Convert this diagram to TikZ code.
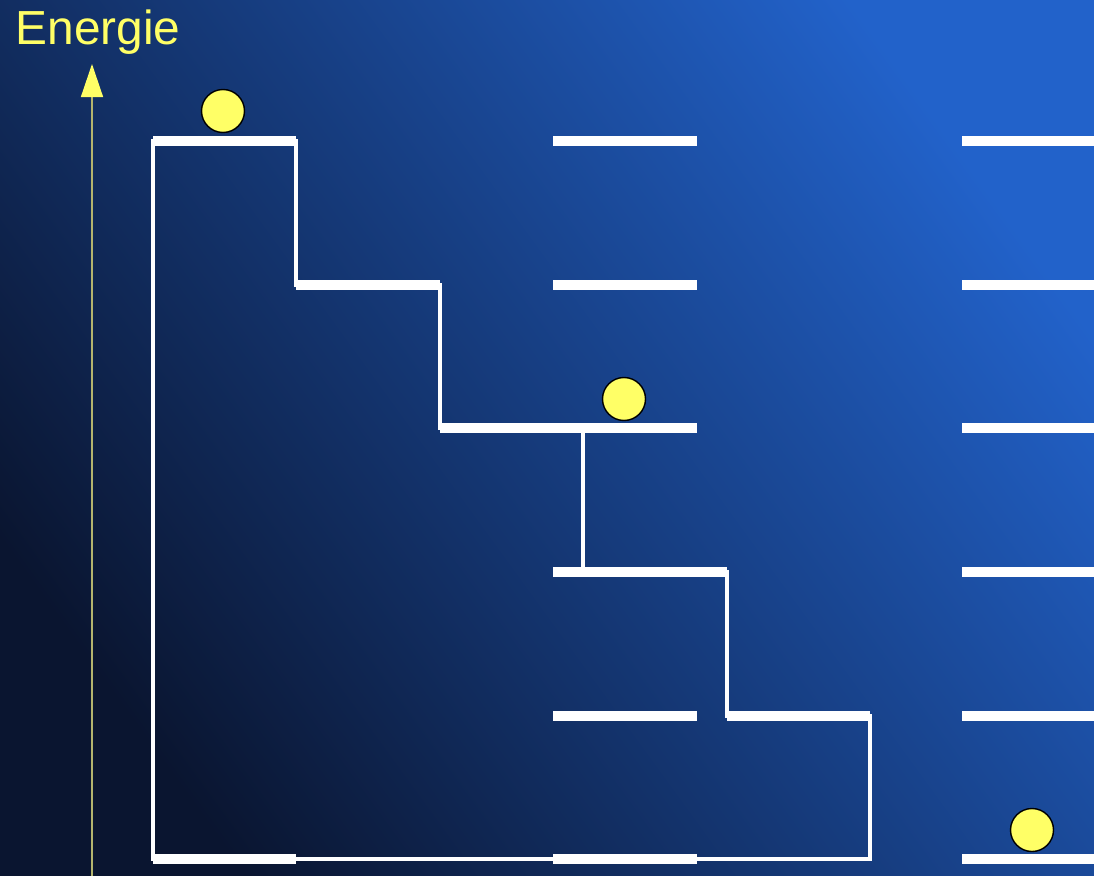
\documentclass[tikz,border=0pt]{standalone}
\usepackage{fontspec}
\setmainfont{Liberation Sans}
\usetikzlibrary{arrows.meta}
\definecolor{ballyellow}{HTML}{FFFF66}
\definecolor{axisolive}{HTML}{B4B46E}
\definecolor{bgdark}{HTML}{0A1530}
\definecolor{bgmid}{HTML}{143470}
\definecolor{bglight}{HTML}{2262CA}

\begin{document}
\begin{tikzpicture}[x=0.01cm,y=-0.01cm,
		level/.style={white,line width=2.6pt},
		link/.style={white,line width=1.1pt},
		ball/.style={draw=black,line width=0.4pt,fill=ballyellow}]
					\shade[left color=bglight,middle color=bgmid,right color=bgdark,shading angle=-54] (0,0) rectangle (1094,876);
					\useasboundingbox (0,0) rectangle (1094,876);
					% energy axis
					\node[anchor=base west,inner sep=0pt,text=ballyellow,font=\fontsize{13.6pt}{16pt}\selectfont] (energy) at (15,45) {Energie};
					\coordinate (axisfoot) at (92,876);
					\coordinate (axistop) at (92,64);
					\draw[axisolive,line width=0.4pt,-{Triangle[length=3.3mm,width=2.2mm,color=ballyellow]}] (axisfoot) -- (axistop);
					% staircase
					\draw[link] (153,141) -- (296,141) -- (296,285) -- (440,285) -- (440,428) -- (583,428) -- (583,572) -- (727,572) -- (727,716) -- (870,716) -- (870,859) -- (153,859) -- cycle;
					\draw[level] (153,141) -- (296,141);
					\draw[level] (296,285) -- (440,285);
					\draw[level] (440,428) -- (583,428);
					\draw[level] (583,572) -- (727,572);
					\draw[level] (727,716) -- (870,716);
					\draw[level] (153,859) -- (296,859);
					% level columns
					\foreach \y in {141,285,428,572,716,859} {
						\draw[level] (553,\y) -- (697,\y);
						\draw[level] (962,\y) -- (1094,\y);
					}
					% balls
					\draw[ball] (223,111) circle[radius=21.5];
					\draw[ball] (624,399) circle[radius=21.5];
					\draw[ball] (1032,830) circle[radius=21.5];
				\end{tikzpicture}
\end{document}
